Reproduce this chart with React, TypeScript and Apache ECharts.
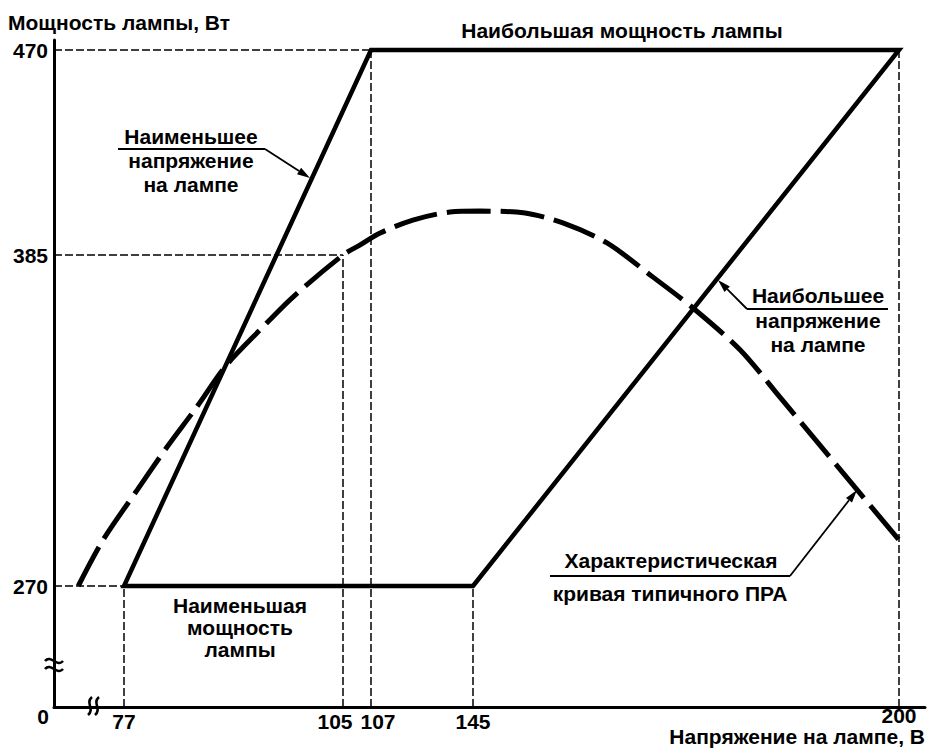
import React, { useEffect, useRef } from "react";
import * as echarts from "echarts";

// ---- data (lamp voltage, V / lamp power, W) ----
const voltageTicks = [77, 105, 107, 145, 200];
const powerTicks = [270, 385, 470];
// top power reached by each vertical guide line
const voltageGuideTop = [270, 385, 470, 270, 470];
// voltage reached by each horizontal guide line
const powerGuideRight = [77, 105, 107];
// operating window: min voltage, max power, max voltage, min power
const envelopeVoltage = [145, 77, 107, 200, 145];
const envelopePower = [270, 270, 470, 470, 270];
// characteristic curve of a typical ballast
const curveVoltage = [71.1, 74.3, 78.7, 82.5, 86.3, 89.9, 94.4, 98.6, 105, 106.2, 110.4, 122.6, 136.4, 145.9, 151.5, 156.6, 162.3, 168.2, 173.4, 179.5, 184.6, 188.9, 194.6, 200];
const curvePower = [270, 286, 303.4, 318.3, 332.2, 346.1, 359, 370.4, 385, 389.1, 394.1, 399.5, 402.8, 403.2, 402.5, 398.3, 390, 377.4, 366.6, 352, 335.7, 321.8, 303.4, 286];

// ---- schematic (broken, not-to-scale) axes: value -> position along axis ----
const X_SCALE: [number, number][] = [[0, 0], [69, 8], [77, 70], [105, 289], [107, 317], [145, 419], [200, 845]];
const Y_SCALE: [number, number][] = [[0, 0], [270, 121], [385, 452], [470, 657]];
const X_LEN = 871;
const Y_LEN = 667;

function mapScale(scale: [number, number][], v: number): number {
  for (let i = 1; i < scale.length; i++) {
    const [a0, b0] = scale[i - 1];
    const [a1, b1] = scale[i];
    if (v <= a1 || i === scale.length - 1) {
      return b0 + ((v - a0) / (a1 - a0)) * (b1 - b0);
    }
  }
  return 0;
}
const X = (v: number) => mapScale(X_SCALE, v);
const Y = (v: number) => mapScale(Y_SCALE, v);

const FONT = "'Liberation Sans', Arial, Helvetica, sans-serif";
const BLACK = "#000";

function txt(text: string, x: number, y: number, align = "center", size = 21, extra: any = {}) {
  return {
    type: "text",
    x,
    y,
    z: 100,
    ...extra,
    style: {
      text,
      font: `bold ${size}px ${FONT}`,
      fill: BLACK,
      textAlign: align,
      textVerticalAlign: "middle",
      align,
      verticalAlign: "middle",
    },
  };
}

function seg(x1: number, y1: number, x2: number, y2: number, w = 1.8) {
  return { type: "line", z: 100, shape: { x1, y1, x2, y2 }, style: { stroke: BLACK, lineWidth: w } };
}

function arrow(x1: number, y1: number, x2: number, y2: number) {
  const ang = Math.atan2(y2 - y1, x2 - x1);
  const L = 13;
  const H = 3.8;
  const bx = x2 - L * Math.cos(ang);
  const by = y2 - L * Math.sin(ang);
  const px = -Math.sin(ang) * H;
  const py = Math.cos(ang) * H;
  return [
    seg(x1, y1, bx, by),
    {
      type: "polygon",
      z: 100,
      shape: { points: [[x2, y2], [bx + px, by + py], [bx - px, by - py]] },
      style: { fill: BLACK },
    },
  ];
}

function wave(x1: number, y1: number, x2: number, y2: number, c1x: number, c1y: number, c2x: number, c2y: number) {
  return {
    type: "bezierCurve",
    z: 100,
    shape: { x1, y1, x2, y2, cpx1: c1x, cpy1: c1y, cpx2: c2x, cpy2: c2y },
    style: { stroke: BLACK, lineWidth: 2.6, fill: null },
  };
}

export default function App() {
  const ref = useRef<HTMLDivElement>(null);

  useEffect(() => {
    if (!ref.current) return;
    const chart = echarts.init(ref.current, null, { renderer: "svg" });

    // label style keys: shift crowded labels (105 / 107) apart, lift 200 above the axis name
    const labelStyleKey: Record<string, string> = { "105": "l", "107": "r", "200": "u" };
    const xLabelMap = new Map<number, string>();
    voltageTicks.forEach((v) => xLabelMap.set(Math.round(X(v)), String(v)));
    const yLabelMap = new Map<number, string>();
    powerTicks.forEach((v) => yLabelMap.set(Math.round(Y(v)), String(v)));

    const guideStyle = { color: BLACK, width: 1.5, type: [8, 3] as any };
    const guideSeries: any[] = [];
    voltageTicks.forEach((v, i) => {
      guideSeries.push({
        type: "line",
        silent: true,
        symbol: "none",
        z: 1,
        lineStyle: guideStyle,
        data: [[X(v), Y(0)], [X(v), Y(voltageGuideTop[i])]],
      });
    });
    powerTicks.forEach((p, i) => {
      guideSeries.push({
        type: "line",
        silent: true,
        symbol: "none",
        z: 1,
        lineStyle: guideStyle,
        data: [[X(0), Y(p)], [X(powerGuideRight[i]), Y(p)]],
      });
    });

    const labelFont = { color: BLACK, fontFamily: FONT, fontWeight: "bold", fontSize: 21 };

    const option: any = {
      animation: false,
      backgroundColor: "#fff",
      grid: { left: 54, top: 40, width: X_LEN, height: Y_LEN, containLabel: false },
      xAxis: {
        type: "value",
        min: 0,
        max: X_LEN,
        splitLine: { show: false },
        axisTick: { show: false },
        axisLine: { show: true, lineStyle: { color: BLACK, width: 3 } },
        axisLabel: {
          show: true,
          customValues: voltageTicks.map((v) => X(v)),
          formatter: (val: number) => {
            const s = xLabelMap.get(Math.round(val)) ?? "";
            const k = labelStyleKey[s];
            return k ? `{${k}|${s}}` : s;
          },
          ...labelFont,
          margin: 4,
          rich: {
            l: { ...labelFont, padding: [0, 16, 0, 0] },
            r: { ...labelFont, padding: [0, 0, 0, 14] },
            u: { ...labelFont, lineHeight: 8 },
          },
        },
      },
      yAxis: {
        type: "value",
        min: 0,
        max: Y_LEN,
        splitLine: { show: false },
        axisTick: { show: false },
        axisLine: { show: true, lineStyle: { color: BLACK, width: 3 } },
        axisLabel: {
          show: true,
          customValues: powerTicks.map((p) => Y(p)),
          formatter: (val: number) => yLabelMap.get(Math.round(val)) ?? "",
          ...labelFont,
          margin: 6,
        },
      },
      series: [
        ...guideSeries,
        {
          type: "line",
          name: "envelope",
          silent: true,
          symbol: "none",
          z: 3,
          lineStyle: { color: BLACK, width: 4.5, cap: "round", join: "miter" },
          data: envelopeVoltage.map((v, i) => [X(v), Y(envelopePower[i])]),
        },
        {
          type: "line",
          name: "curve",
          silent: true,
          symbol: "none",
          smooth: 0.3,
          z: 4,
          lineStyle: { color: BLACK, width: 5, type: [44, 10], cap: "butt" },
          data: curveVoltage.map((v, i) => [X(v), Y(curvePower[i])]),
        },
      ],
      graphic: [
        txt("Мощность лампы, Вт", 8, 22, "left", 21),
        txt("Напряжение на лампе, В", 925, 736, "right", 21),
        txt("0", 43, 716, "center", 21),
        // axis break marks
        wave(45, 661, 63, 661, 51, 654, 57, 668),
        wave(45, 669, 63, 669, 51, 662, 57, 676),
        wave(88, 715, 92, 697, 95, 709, 85, 703),
        wave(95, 715, 99, 697, 102, 709, 92, 703),
        txt("Наибольшая мощность лампы", 622, 30),
        txt("Наименьшая", 240, 605),
        txt("мощность", 240, 627),
        txt("лампы", 240, 649),
        txt("Наименьшее", 191, 136),
        txt("напряжение", 191, 160),
        txt("на лампе", 191, 184),
        seg(118, 149, 265, 149),
        ...arrow(265, 149, 310, 178),
        txt("Наибольшее", 818, 295),
        txt("напряжение", 818, 320),
        txt("на лампе", 818, 344),
        seg(888, 309, 747, 309),
        ...arrow(747, 309, 718, 280),
        txt("Характеристическая", 671, 560),
        txt("кривая типичного ПРА", 670, 593),
        seg(550, 576, 790, 576),
        ...arrow(790, 576, 857, 490),
      ],
    };

    chart.setOption(option);
    return () => chart.dispose();
  }, []);

  return (
    <div
      ref={ref}
      style={{ position: "fixed", left: 0, top: 0, width: 928, height: 754, background: "#fff" }}
    />
  );
}
